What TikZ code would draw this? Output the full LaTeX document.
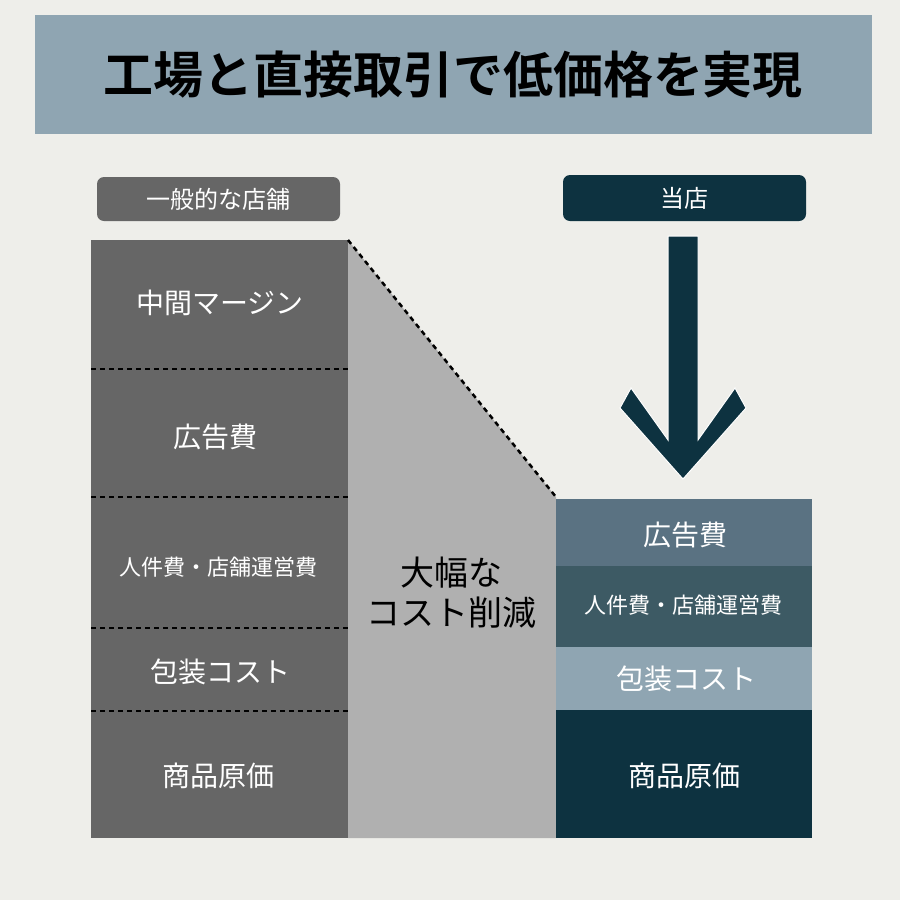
\documentclass[tikz,border=0pt]{standalone}
\usepackage{fontspec}
\newfontfamily\jp{Noto Sans CJK JP}
\newfontfamily\jpb{Noto Sans CJK JP Bold}
\definecolor{bg}{HTML}{EEEEEA}
\definecolor{band}{HTML}{8FA5B2}
\definecolor{dgray}{HTML}{666666}
\definecolor{lgray}{HTML}{B0B0B0}
\definecolor{navy}{HTML}{0D3240}
\definecolor{slate}{HTML}{5A7282}
\definecolor{teal}{HTML}{3D5A64}
\tikzset{x=1pt,y=-1pt,
 lab/.style={text=white,font=\jp\fontsize{24}{24}\selectfont},
 big/.style={text=white,font=\jp\fontsize{28}{28}\selectfont},
 mid/.style={text=white,font=\jp\fontsize{22}{22}\selectfont},
 dl/.style={black,line width=2.5pt,dash pattern=on 5pt off 4pt}}
\begin{document}
\begin{tikzpicture}
\fill[bg] (0,0) rectangle (900,900);
\useasboundingbox (0,0) rectangle (900,900);
\fill[band] (35,15) rectangle (872,134);
\node[font=\jpb\fontsize{50}{50}\selectfont] (title) at (453,75) {工場と直接取引で低価格を実現};
\fill[dgray,rounded corners=7pt] (97,177) rectangle (340,221);
\node[lab] (l1) at (218,199) {一般的な店舗};
\fill[navy,rounded corners=7pt] (563,175) rectangle (806,221);
\node[lab] (l2) at (684,198) {当店};
\fill[lgray] (348,240) -- (556,497) -- (556,838) -- (348,838) -- cycle;
\fill[dgray] (91,240) rectangle (348,838);
\foreach \y in {369,497,628,711} \draw[dl] (91,\y) -- (348,\y);
\draw[dl] (348,240) -- (556,497);
\node[big] (a1) at (220,303) {中間マージン};
\node[big] (a2) at (215,437) {広告費};
\node[mid] (a3) at (218,567) {人件費・店舗運営費};
\node[big] (a4) at (220,672) {包装コスト};
\node[big] (a5) at (218,776) {商品原価};
\node[font=\jp\fontsize{34}{40}\selectfont,align=center] (cut) at (451,593) {大幅な\\コスト削減};
\fill[slate] (556,499) rectangle (812,566);
\fill[teal] (556,566) rectangle (812,647);
\fill[band] (556,647) rectangle (812,710);
\fill[navy] (556,710) rectangle (812,838);
\node[big] (b1) at (685,535) {広告費};
\node[mid] (b2) at (683,605) {人件費・店舗運営費};
\node[big] (b3) at (686,679) {包装コスト};
\node[big] (b4) at (684,776) {商品原価};
\fill[navy,draw=white,line width=1pt] (668,236) -- (698,236) -- (698,440) -- (735,388) -- (746,408) -- (683,479) -- (620,408) -- (631,388) -- (668,440) -- cycle;
\end{tikzpicture}
\end{document}
